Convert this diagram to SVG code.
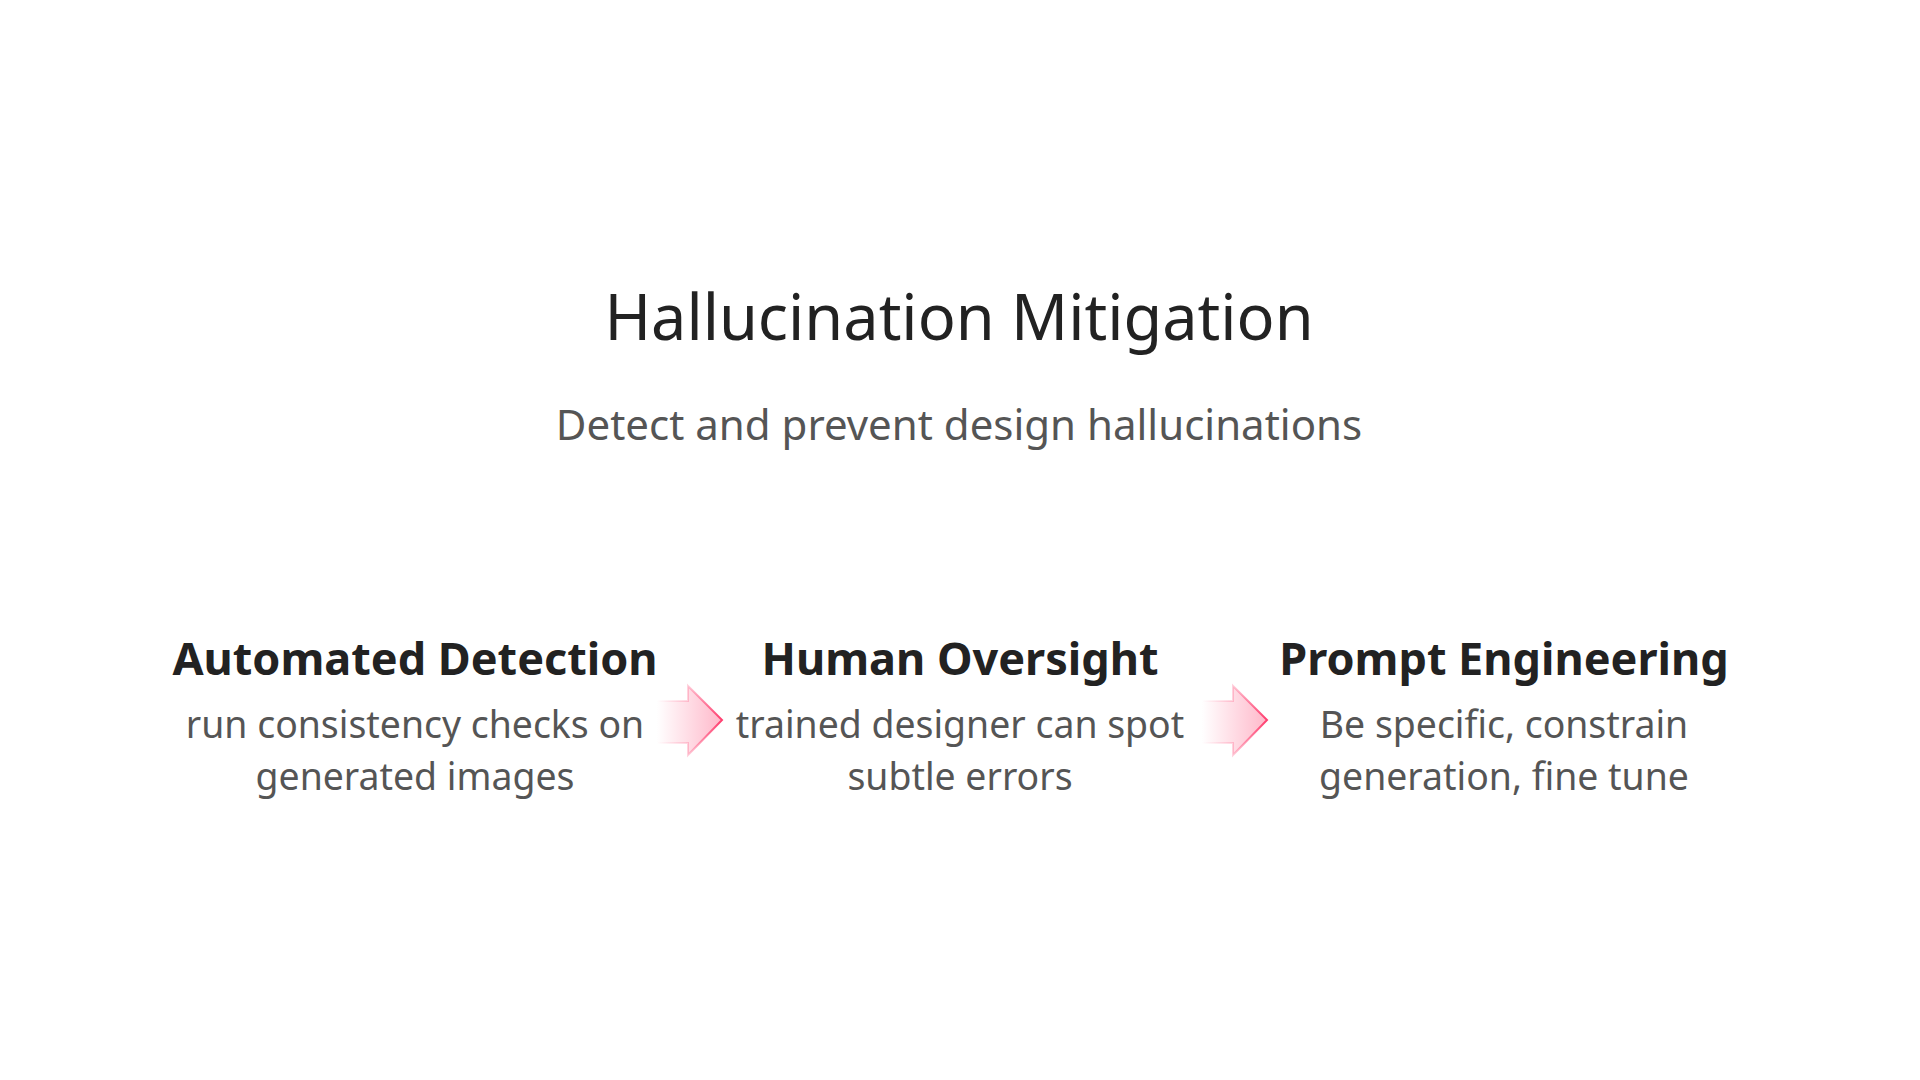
<svg xmlns="http://www.w3.org/2000/svg" width="1920" height="1080" viewBox="0 0 1920 1080">
<defs>
<linearGradient id="gFill" x1="0" y1="0" x2="1" y2="0">
<stop offset="0" stop-color="#ff4d7a" stop-opacity="0"/>
<stop offset="1" stop-color="#ff4d7a" stop-opacity="0.4"/>
</linearGradient>
<linearGradient id="gStroke" x1="0" y1="0" x2="1" y2="0">
<stop offset="0" stop-color="#ff3d6e" stop-opacity="0"/>
<stop offset="0.45" stop-color="#ff3d6e" stop-opacity="0.2"/>
<stop offset="1" stop-color="#ff3d6e" stop-opacity="1"/>
</linearGradient>
<path id="arrow" d="M0,15 L31,15 L31,0 L65,34 L31,69 L31,57 L0,57 Z"/>
</defs>
<style>
text{font-family:"Noto Sans","Open Sans","Liberation Sans",sans-serif;text-anchor:middle}
.title{font-size:63px;fill:#222222}
.sub{font-size:42px;fill:#555555}
.head{font-size:45px;font-weight:700;fill:#222222}
.body{font-size:37.4px;fill:#555555}
.arr{fill:url(#gFill);stroke:url(#gStroke);stroke-width:2}
</style>
<rect width="1920" height="1080" fill="#ffffff"/>
<g id="title"><text class="title" x="959" y="340">Hallucination Mitigation</text></g>
<g id="subtitle"><text class="sub" x="959" y="440">Detect and prevent design hallucinations</text></g>
<g id="connectors">
<use href="#arrow" class="arr" transform="translate(657,686)"/>
<use href="#arrow" class="arr" transform="translate(1202,686)"/>
</g>
<g id="node-automated-detection">
<text class="head" x="415" y="675">Automated Detection</text>
<text class="body" x="415" y="738">run consistency checks on</text>
<text class="body" x="415" y="790">generated images</text>
</g>
<g id="node-human-oversight">
<text class="head" x="960" y="675">Human Oversight</text>
<text class="body" x="960" y="738">trained designer can spot</text>
<text class="body" x="960" y="790">subtle errors</text>
</g>
<g id="node-prompt-engineering">
<text class="head" x="1504" y="675">Prompt Engineering</text>
<text class="body" x="1504" y="738">Be specific, constrain</text>
<text class="body" x="1504" y="790">generation, fine tune</text>
</g>
</svg>
